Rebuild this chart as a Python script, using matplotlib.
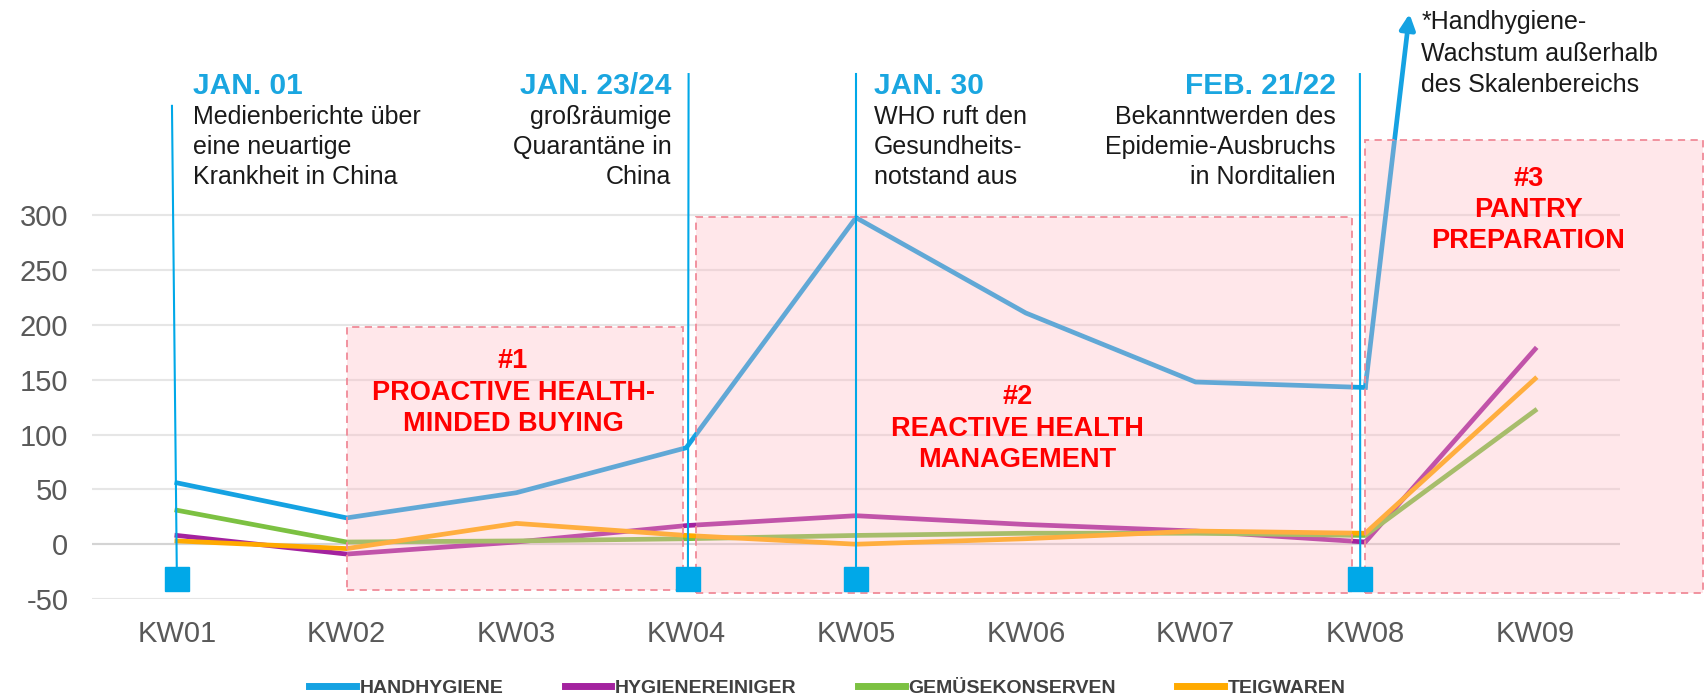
import matplotlib
matplotlib.use('Agg')
import matplotlib.pyplot as plt
from matplotlib.lines import Line2D
from matplotlib.patches import Rectangle

plt.rcParams['font.family'] = ['Liberation Sans', 'DejaVu Sans']
plt.rcParams['axes.unicode_minus'] = False

# Daten (Wachstum in %)
weeks = ['KW01', 'KW02', 'KW03', 'KW04', 'KW05', 'KW06', 'KW07', 'KW08', 'KW09']
handhygiene = [56, 24, 47, 88, 298, 211, 148, 143]  # KW09 außerhalb des Skalenbereichs
handhygiene_kw09_tip = 484
hygienereiniger = [8, -9, 2, 17, 26, 18, 12, 2, 178]
gemuesekonserven = [31, 2, 3, 5, 8, 10, 10, 8, 122]
teigwaren = [3, -4, 19, 8, 0, 5, 12, 10, 151]
yticks = [-50, 0, 50, 100, 150, 200, 250, 300]

series_names = ['HANDHYGIENE', 'HYGIENEREINIGER', 'GEMÜSEKONSERVEN', 'TEIGWAREN']
series_colors = ['#15a2e2', '#a3229f', '#7cc142', '#ffaa00']

# Ereignisse
event_dates = ['JAN. 01', 'JAN. 23/24', 'JAN. 30', 'FEB. 21/22']
event_texts = [
    ['Medienberichte über', 'eine neuartige', 'Krankheit in China'],
    ['großräumige', 'Quarantäne in', 'China'],
    ['WHO ruft den', 'Gesundheits-', 'notstand aus'],
    ['Bekanntwerden des', 'Epidemie-Ausbruchs', 'in Norditalien'],
]
event_pos = [0, 3.01, 4.0, 6.97]

phase_titles = ['#1\nPROACTIVE HEALTH-\nMINDED BUYING',
                '#2\nREACTIVE HEALTH\nMANAGEMENT',
                '#3\nPANTRY\nPREPARATION']

note_text = ['*Handhygiene-', 'Wachstum außerhalb', 'des Skalenbereichs']

event_blue = '#00a8e8'

fig = plt.figure(figsize=(17.06, 6.96), dpi=100)
ax = fig.add_axes([92 / 1706, 1 - 599 / 696, (1620 - 92) / 1706, 599 / 696])
ax.set_xlim(-0.5, 8.5)
ax.set_ylim(-50, 496.6)

x = list(range(len(weeks)))

# Gitter
ax.set_yticks(yticks)
ax.set_xticks(x)
ax.set_xticklabels(weeks)
ax.yaxis.grid(True, color='#e6e6e6', lw=1.5)
ax.set_axisbelow(True)
ax.axhline(0, color='#d4d4d4', lw=1.5, zorder=1)
for s in ax.spines.values():
    s.set_visible(False)
ax.tick_params(axis='both', length=0, labelsize=21, labelcolor='#595959')
ax.tick_params(axis='x', pad=15)
ax.tick_params(axis='y', pad=17)

# Linien
ax.plot(x[:len(handhygiene)], handhygiene, color=series_colors[0], lw=3.4, zorder=2)
ax.plot(x, hygienereiniger, color=series_colors[1], lw=3.4, zorder=2)
ax.plot(x, gemuesekonserven, color=series_colors[2], lw=3.4, zorder=2)
ax.plot(x, teigwaren, color=series_colors[3], lw=3.4, zorder=2)

# Pfeil für Handhygiene KW09
ax.annotate('', xy=(7.26, handhygiene_kw09_tip), xytext=(7, handhygiene[-1]),
            arrowprops=dict(arrowstyle='-|>,head_length=0.9,head_width=0.45',
                            color=series_colors[0], lw=3.4,
                            shrinkA=0, shrinkB=0),
            annotation_clip=False, zorder=2)

# Phasen
box_face = (1.0, 0.718, 0.753, 0.33)
box_edge = '#f08a98'
boxes = [(1.0, -41.7, 2.98, 198.6), (3.06, -44.7, 6.92, 299), (7.0, -44.7, 8.99, 368.4)]
for x0, y0, x1, y1 in boxes:
    ax.add_patch(Rectangle((x0, y0), x1 - x0, y1 - y0, facecolor=box_face,
                           edgecolor=box_edge, ls=(0, (4, 3)), lw=1.3,
                           zorder=3, clip_on=False))

# Phasen-Beschriftung
phase_x = [1.98, 4.95, 7.96]
phase_y = [160.4, 127.5, 327.2]
for title, px, py in zip(phase_titles, phase_x, phase_y):
    for i, line in enumerate(title.split('\n')):
        ax.annotate(line, xy=(px, py), xytext=(0, -i * 22.5),
                    textcoords='offset points', ha='center', va='baseline',
                    fontsize=19.5, fontweight='bold', color='#ff0000',
                    zorder=6, annotation_clip=False)

# Ereignislinien
line_tops = [(-0.029, 400), (3.014, 429), (4.0, 429), (6.968, 429)]
for (xt, yt), xb in zip(line_tops, event_pos):
    ax.plot([xt, xb], [yt, -32], color=event_blue, lw=1.5, zorder=4, clip_on=False)
    ax.plot(xb, -32, marker='s', ms=17, color=event_blue, zorder=5, clip_on=False)

# Ereignistexte
text_x = [0.092, 2.912, 4.104, 6.826]
text_ha = ['left', 'right', 'left', 'right']
for date, lines, tx, ha in zip(event_dates, event_texts, text_x, text_ha):
    ax.text(tx, 411.2, date, ha=ha, va='baseline', fontsize=21.5,
            fontweight='bold', color='#1aa6e0', zorder=6)
    for i, line in enumerate(lines):
        ax.annotate(line, xy=(tx, 383.1), xytext=(0, -i * 21.5),
                    textcoords='offset points', ha=ha, va='baseline',
                    fontsize=18, color='#1a1a1a', zorder=6)

# Hinweis
for i, line in enumerate(note_text):
    ax.annotate(line, xy=(7.33, 469.8), xytext=(0, -i * 22.5),
                textcoords='offset points', ha='left', va='baseline',
                fontsize=18, color='#1a1a1a', zorder=6, annotation_clip=False)

# Legende
handles = [Line2D([0], [0], color=c, lw=5) for c in series_colors]
fig.legend(handles, series_names, loc='center', bbox_to_anchor=(0.485, 0.011),
           ncol=4, frameon=False, handlelength=2.4, handletextpad=0.2,
           columnspacing=3.15, borderpad=0.1,
           prop={'size': 14, 'weight': 'bold'}, labelcolor='#404040')

fig.savefig('out.png', dpi=100)
